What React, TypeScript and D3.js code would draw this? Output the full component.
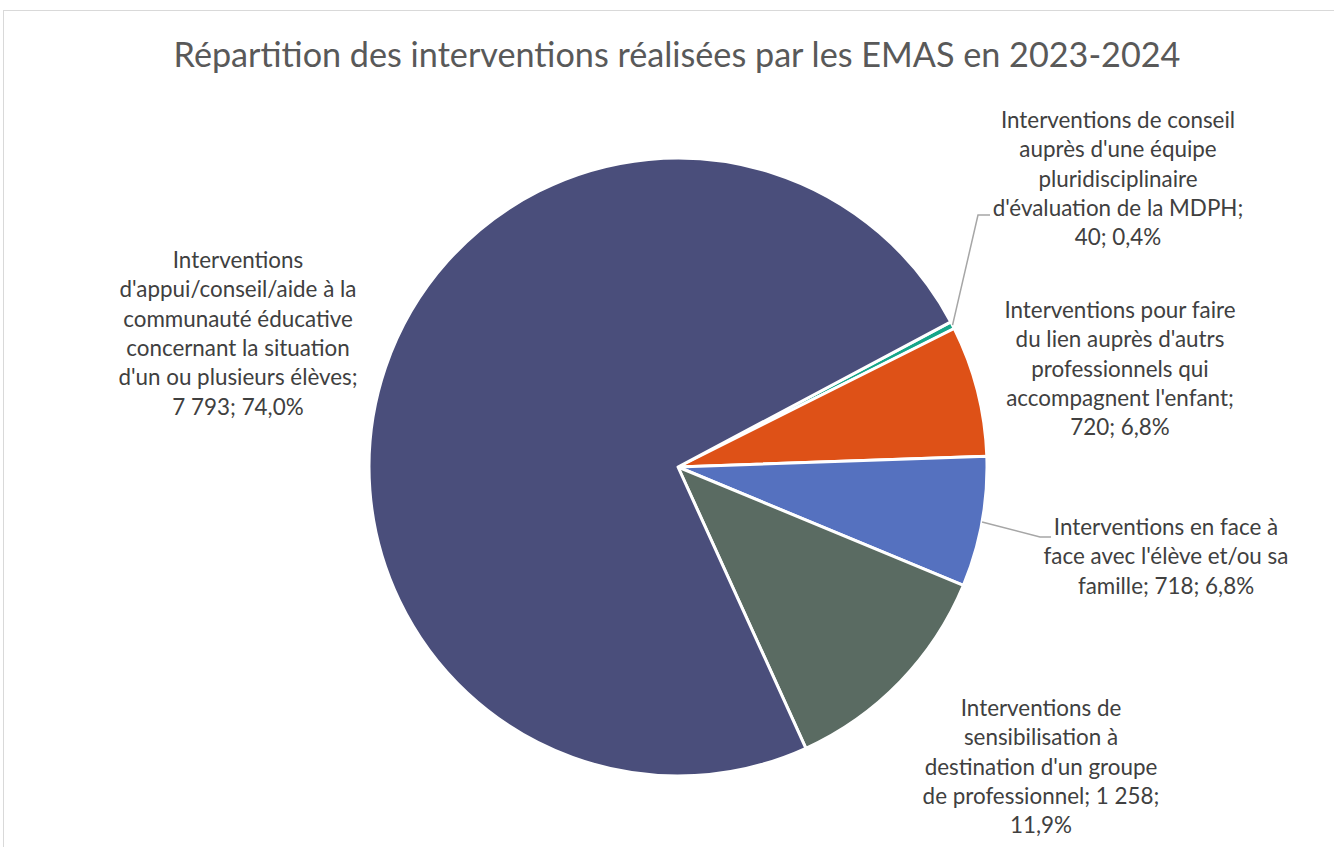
import React from "react";
import * as d3 from "d3";

const categories = [
  "Interventions de conseil auprès d'une équipe pluridisciplinaire d'évaluation de la MDPH",
  "Interventions pour faire du lien auprès d'autrs professionnels qui accompagnent l'enfant",
  "Interventions en face à face avec l'élève et/ou sa famille",
  "Interventions de sensibilisation à destination d'un groupe de professionnel",
  "Interventions d'appui/conseil/aide à la communauté éducative concernant la situation d'un ou plusieurs élèves",
];
const values = [40, 720, 718, 1258, 7793];
const valueLabels = ["40", "720", "718", "1 258", "7 793"];
const colors = ["#17A589", "#DE5117", "#5571BF", "#5A6B62", "#4A4E7B"];
// wrapped lines of the category name (the last fragment gets "; value; pct" appended)
const labelLines = [
  ["Interventions de conseil", "auprès d'une équipe", "pluridisciplinaire", "d'évaluation de la MDPH;", ""],
  ["Interventions pour faire", "du lien auprès d'autrs", "professionnels qui", "accompagnent l'enfant;", ""],
  ["Interventions en face à", "face avec l'élève et/ou sa", "famille; "],
  ["Interventions de", "sensibilisation à", "destination d'un groupe", "de professionnel; ", ""],
  ["Interventions", "d'appui/conseil/aide à la", "communauté éducative", "concernant la situation", "d'un ou plusieurs élèves;", ""],
];
const title = "Répartition des interventions réalisées par les EMAS en 2023-2024";

const W = 1334;
const H = 847;
const cx = 678;
const cy = 467;
const R = 309;
const startDeg = 62;
const lineH = 29.3;
const fontFam = "Lato, 'Open Sans', sans-serif";

// label anchor positions (center x, first baseline y)
const labelPos = [
  { x: 1118, y: 128 },
  { x: 1120, y: 318 },
  { x: 1166, y: 535 },
  { x: 1041, y: 716 },
  { x: 238, y: 268 },
];

export default function App() {
  const total = d3.sum(values);
  const fmtPct = (v: number) => (v / total * 100).toFixed(1).replace(".", ",") + "%";
  const start = (startDeg * Math.PI) / 180;
  const pie = d3
    .pie<number>()
    .sort(null)
    .value((d) => d)
    .startAngle(start)
    .endAngle(start + 2 * Math.PI);
  const arcs = pie(values);
  const arc = d3.arc<d3.PieArcDatum<number>>().innerRadius(0).outerRadius(R);

  const edgePoint = (a: d3.PieArcDatum<number>) => {
    const m = (a.startAngle + a.endAngle) / 2;
    return [cx + R * Math.sin(m), cy - R * Math.cos(m)];
  };

  // fill value/pct into the text; green label splits value and pct across lines
  const lines = labelLines.map((ls, i) => {
    const out = ls.slice();
    const v = valueLabels[i];
    const p = fmtPct(values[i]);
    if (i === 3) {
      out[out.length - 2] = out[out.length - 2] + v + ";";
      out[out.length - 1] = p;
    } else if (i === 2) {
      out[out.length - 1] = out[out.length - 1] + `${v}; ${p}`;
    } else {
      out[out.length - 1] = `${v}; ${p}`;
    }
    return out;
  });

  const p0 = edgePoint(arcs[0]);
  const p2 = edgePoint(arcs[2]);

  return (
    <svg
      width={W}
      height={H}
      style={{ position: "absolute", left: 0, top: 0, background: "#fff" }}
      fontFamily={fontFam}
    >
      <rect x={3.5} y={10.5} width={W + 20} height={H + 20} fill="#fff" stroke="#D9D9D9" strokeWidth={1} />
      <text x={677} y={67} textAnchor="middle" fontSize={34.2} fill="#595959">
        {title}
      </text>
      <g transform={`translate(${cx},${cy})`}>
        {arcs.map((a, i) => (
          <path key={i} d={arc(a) || ""} fill={colors[i]} stroke="#fff" strokeWidth={3} strokeLinejoin="round">
            <title>{categories[i]}</title>
          </path>
        ))}
      </g>
      <polyline
        points={`${p0[0]},${p0[1]} 978,215 990,215`}
        fill="none"
        stroke="#A6A6A6"
        strokeWidth={1.5}
      />
      <polyline
        points={`${p2[0]},${p2[1]} 1040,537 1051,537`}
        fill="none"
        stroke="#A6A6A6"
        strokeWidth={1.5}
      />
      {lines.map((ls, i) => (
        <text key={i} textAnchor="middle" fontSize={22.4} fill="#404040">
          {ls.map((l, j) => (
            <tspan key={j} x={labelPos[i].x} y={labelPos[i].y + j * lineH}>
              {l}
            </tspan>
          ))}
        </text>
      ))}
    </svg>
  );
}
